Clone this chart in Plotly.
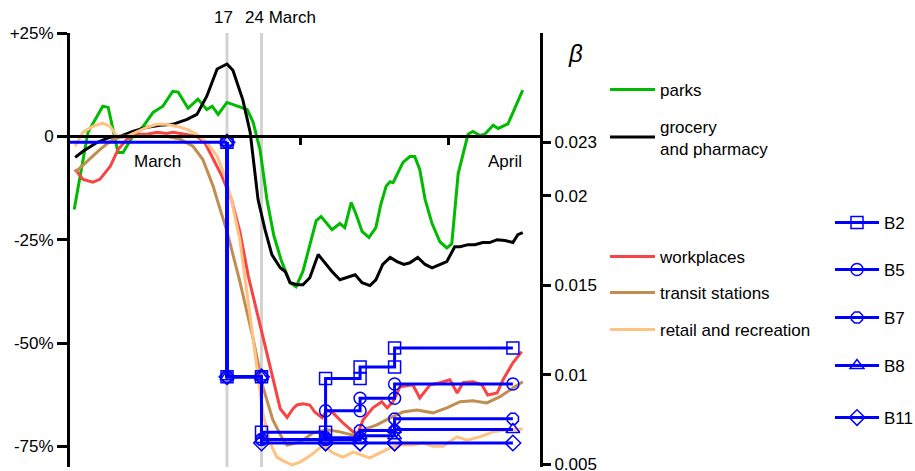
import plotly.graph_objects as go

# ---------------- data ----------------
# x = day number (1 = 1 March 2020, 32 = 1 April, 62 = 1 May)
parks_x = [-14.0, -11.2, -8.2, -7.1, -5.1, -4.1, -2.1, 0, 2.0, 4.0, 6.0, 7.1, 9.1, 11.1, 12.9, 14.0, 15.2, 17.0,
           21.1, 22.3, 23.7, 25.1, 26.5, 28.0, 29.8, 31.0, 32.4, 33.8, 35.1, 36.1, 36.9, 38.3, 39.9, 40.9, 42.2,
           43.2, 44.4, 45.8, 47.2, 48.2, 49.3, 50.1, 50.7, 52.7, 54.1, 55.1, 56.1, 57.2, 58.6, 60.2, 61.6, 62.6,
           63.9, 65.9, 66.9, 68.3, 69.3, 71.0, 72.0, 74.0, 77.0]
parks_y = [-17.7, 1.0, 7.3, 7.0, -3.9, -3.9, 0, 2.4, 5.8, 7.3, 10.9, 10.7, 6.8, 9.0, 6.5, 7.3, 5.3, 8.2,
           6.5, 3.4, -3.2, -15.3, -24.0, -30.0, -35.4, -36.4, -32.7, -26.2, -20.4, -19.4, -20.6, -22.6, -21.1,
           -22.1, -16.0, -18.9, -23.0, -24.5, -22.1, -16.5, -12.0, -11.0, -11.2, -6.3, -4.9, -4.9, -8.0, -15.3,
           -21.1, -25.5, -27.0, -26.0, -9.0, 0.5, 1.2, 0.2, 0.5, 2.7, 1.9, 3.0, 11.2]

grocery_x = [-13.8, -12.2, -9.4, -6.7, -4.7, -2.1, 0.8, 3.4, 6.0, 8.9, 10.9, 12.9, 15.0, 17.0, 18.2, 20.2, 21.7,
             23.3, 24.7, 26.1, 27.8, 28.8, 29.8, 31.2, 32.4, 33.8, 35.5, 36.9, 38.3, 39.9, 41.3, 43.0, 44.4, 46.0,
             47.2, 48.6, 50.1, 51.5, 52.9, 54.1, 55.7, 57.2, 58.6, 60.2, 61.6, 63.2, 64.3, 65.9, 67.3, 68.9, 70.3,
             71.8, 73.4, 75.0, 76.0, 77.0]
grocery_y = [-5.1, -3.6, -1.5, -0.2, 0, 1.2, 2.2, 2.7, 2.9, 4.1, 5.3, 9.7, 16.3, 17.5, 16.0, 8.9, 1.0,
             -15.3, -22.5, -28.6, -31.8, -32.7, -35.4, -35.9, -35.9, -34.2, -28.6, -30.8, -32.7, -34.7, -34.2,
             -33.5, -35.4, -36.1, -34.7, -31.0, -29.3, -30.3, -31.0, -30.6, -29.3, -31.0, -31.8, -31.0, -30.3,
             -26.7, -26.7, -26.2, -26.2, -25.7, -25.7, -25.0, -25.2, -25.7, -23.8, -23.3]

work_x = [-13.8, -12.2, -10.2, -8.8, -6.7, -5.1, -3.3, -1.3, 0.8, 2.8, 4.8, 6.0, 8.5, 10.9, 12.5, 14.2, 16.0,
          17.9, 19.6, 21.3, 23.7, 25.7, 27.8, 29.2, 30.4, 31.2, 32.4, 33.8, 34.8, 36.3, 37.3, 38.5, 40.5, 42.6,
          43.6, 44.6, 46.6, 48.4, 49.5, 50.7, 52.1, 54.7, 56.1, 58.2, 60.2, 62.2, 63.7, 64.9, 66.9, 68.7, 69.9,
          71.8, 73.0, 75.0, 76.8]
work_y = [-8.0, -10.4, -11.1, -10.4, -7.3, -3.2, -0.7, 0.5, 0.5, 1.0, 0.7, 1.0, 0.5, 0, -1.5, -5.6, -9.7,
          -15.3, -23.0, -33.7, -45.8, -55.5, -65.9, -68.0, -65.9, -65.0, -64.7, -65.0, -66.7, -68.1, -66.2,
          -66.9, -69.3, -71.5, -71.8, -68.6, -65.7, -64.2, -65.7, -64.2, -60.6, -60.1, -63.3, -60.1, -59.6,
          -58.9, -62.1, -59.6, -59.4, -60.1, -62.6, -62.1, -58.9, -54.8, -52.1]

transit_x = [-13.8, -11.4, -8.8, -6.7, -4.7, -2.1, 1.4, 4.8, 7.5, 10.1, 12.1, 14.2, 15.0, 17.0, 19.6, 22.3,
             24.3, 26.3, 28.4, 29.2, 31.8, 34.4, 37.3, 39.9, 42.6, 44.6, 47.4, 50.1, 52.7, 55.5, 58.8, 61.6,
             64.3, 66.9, 69.7, 72.4, 75.0, 77.0]
transit_y = [-8.7, -6.1, -3.2, -1.2, -0.2, 0, 0, 0, -0.7, -2.4, -5.6, -12.1, -15.3, -23.0, -35.1, -48.9,
             -60.6, -68.6, -73.5, -74.7, -74.0, -71.8, -71.0, -71.5, -72.3, -71.0, -69.8, -68.1, -66.7, -66.2,
             -66.9, -65.7, -64.2, -64.0, -64.5, -63.0, -60.9, -59.4]

retail_x = [-13.8, -12.2, -10.2, -8.2, -6.7, -5.3, -3.3, -1.3, 0.8, 2.8, 4.8, 6.9, 8.9, 10.9, 12.9, 15.0, 16.6,
            17.9, 19.6, 21.7, 23.1, 24.3, 25.7, 27.1, 28.4, 30.2, 31.8, 33.2, 34.8, 36.5, 38.5, 40.5, 42.6,
            44.0, 46.0, 48.0, 50.1, 52.1, 54.7, 56.8, 58.8, 60.8, 63.7, 65.7, 68.3, 71.0, 73.8, 77.0]
retail_y = [-2.4, 1.0, 2.4, 3.2, 2.4, 0, 0, 1.0, 2.2, 2.9, 2.9, 2.4, 1.7, 0.5, -1.5, -4.8, -9.7,
            -15.3, -25.0, -43.6, -55.8, -67.0, -74.0, -77.6, -78.5, -79.5, -78.8, -77.8, -76.4, -74.7, -76.6,
            -77.6, -76.4, -77.0, -77.8, -76.6, -75.4, -74.7, -74.7, -74.2, -75.0, -75.0, -72.7, -73.5, -72.7,
            -71.5, -71.0, -70.8]

# beta step functions: level before 17 March, then after each change day
beta_start_day = -14.85
beta_change_days = [17, 24, 37, 44, 51]
beta_end_day = 75
B2 = [0.023, 0.0099, 0.0068, 0.0098, 0.01045, 0.0115]
B5 = [0.023, 0.0099, 0.0064, 0.0080, 0.0087, 0.0095]
B7 = [0.023, 0.0099, 0.0064, 0.0065, 0.0069, 0.00755]
B8 = [0.023, 0.0099, 0.0064, 0.0064, 0.0066, 0.00695]
B11 = [0.023, 0.0099, 0.0062, 0.0062, 0.0062, 0.0062]

left_ticks = [-75, -50, -25, 0, 25]
left_ticktext = ["-75%", "-50%", "-25%", "0", "+25%"]
right_ticks = [0.005, 0.01, 0.015, 0.02, 0.023]
right_ticktext = ["0.005", "0.01", "0.015", "0.02", "0.023"]
month_tick_days = [32, 62]
event_days = [17, 24]

# ---------------- figure ----------------
FONT = "Liberation Sans, Arial, sans-serif"
FS = 17
W, H = 915, 471
L, R, T, B = 70, 375, 33, 4
PW, PH = W - L - R, H - T - B


def sx(px):  # screen pixel -> paper x
    return (px - L) / PW


def sy(py):  # screen pixel -> paper y
    return (H - B - py) / PH


fig = go.Figure()

mob = [
    ("parks", parks_x, parks_y, "#00BB00", "legend", 90),
    ("grocery<br>and pharmacy", grocery_x, grocery_y, "#000000", "legend2", 137.5),
    ("workplaces", work_x, work_y, "#F84444", "legend3", 257),
    ("transit stations", transit_x, transit_y, "#C08E50", "legend4", 293),
    ("retail and recreation", retail_x, retail_y, "#FFC280", "legend5", 330),
]
legend_layout = {}
for name, xs, ys, col, lg, ly in mob:
    fig.add_trace(go.Scatter(x=xs, y=ys, mode="lines", name=name, legend=lg,
                             line=dict(color=col, width=3), yaxis="y"))
    legend_layout[lg] = dict(x=sx(605), y=sy(ly), xanchor="left", yanchor="middle",
                             bgcolor="rgba(0,0,0,0)", font=dict(family=FONT, size=FS, color="black"),
                             itemwidth=45)

BLUE = "#0000FF"
# shared initial segment
fig.add_trace(go.Scatter(x=[beta_start_day, beta_change_days[0]], y=[B2[0], B2[0]], mode="lines",
                         line=dict(color=BLUE, width=3), yaxis="y2", showlegend=False, hoverinfo="skip"))

bser = [("B2", B2, "square-open", 223), ("B5", B5, "circle-open", 270), ("B7", B7, "octagon-open", 318),
        ("B8", B8, "triangle-up-open", 366), ("B11", B11, "diamond-open", 418)]
for i, (name, lev, sym, ly) in enumerate(bser):
    xs, ys = [], []
    for d, prev, new in zip(beta_change_days, lev[:-1], lev[1:]):
        xs += [d, d]
        ys += [prev, new]
    xs.append(beta_end_day)
    ys.append(lev[-1])
    lg = "legend%d" % (6 + i)
    fig.add_trace(go.Scatter(x=xs, y=ys, mode="lines+markers", name=name, legend=lg, yaxis="y2",
                             line=dict(color=BLUE, width=3),
                             marker=dict(symbol=sym, size=12, color=BLUE, line=dict(width=1.5, color=BLUE))))
    legend_layout[lg] = dict(x=sx(830), y=sy(ly), xanchor="left", yanchor="middle",
                             bgcolor="rgba(0,0,0,0)", font=dict(family=FONT, size=FS, color="black"),
                             itemwidth=44)

shapes = []
for d in event_days:
    shapes.append(dict(type="line", xref="x", yref="paper", x0=d, x1=d, y0=0, y1=1,
                       line=dict(color="#D3D3D3", width=3), layer="below"))

annotations = [
    dict(text="17", x=17, y=1, xref="x", yref="paper", yanchor="bottom", xanchor="center", yshift=4,
         xshift=-4, showarrow=False, font=dict(family=FONT, size=FS, color="black")),
    dict(text="24 March", x=24, y=1, xref="x", yref="paper", yanchor="bottom", xanchor="left", yshift=4,
         xshift=-19, showarrow=False, font=dict(family=FONT, size=FS, color="black")),
    dict(text="March", x=2.8, y=-6, xref="x", yref="y", showarrow=False,
         font=dict(family=FONT, size=FS, color="black")),
    dict(text="April", x=73.4, y=-6, xref="x", yref="y", showarrow=False,
         font=dict(family=FONT, size=FS, color="black")),
    dict(text="<i>β</i>", x=sx(585), y=sy(38), xref="paper", yref="paper", showarrow=False,
         font=dict(family=FONT, size=24, color="black")),
]

fig.update_layout(
    width=W, height=H,
    margin=dict(l=L, r=R, t=T, b=B, autoexpand=False),
    plot_bgcolor="white", paper_bgcolor="white",
    font=dict(family=FONT, size=FS, color="black"),
    xaxis=dict(range=[-14.85, 80.5], anchor="free", position=80 / 105, showline=True, linecolor="black",
               linewidth=2.5, ticks="outside", tickvals=month_tick_days, ticklen=7, tickwidth=2.5,
               tickcolor="black", showticklabels=False, showgrid=False, zeroline=False, fixedrange=True),
    yaxis=dict(range=[-80, 25], tickvals=left_ticks, ticktext=left_ticktext, showline=True, linecolor="black",
               linewidth=3, ticks="outside", ticklen=10, tickwidth=3, tickcolor="black", showgrid=False,
               zeroline=False, tickfont=dict(family=FONT, size=FS, color="black")),
    yaxis2=dict(range=[0.00486, 0.0291], overlaying="y", side="right", tickvals=right_ticks,
                ticktext=right_ticktext, showline=True, linecolor="black", linewidth=3, ticks="outside",
                ticklen=8, tickwidth=3, tickcolor="black", showgrid=False, zeroline=False,
                ticklabeloverflow="allow", tickfont=dict(family=FONT, size=FS, color="black")),
    shapes=shapes, annotations=annotations, showlegend=True,
    **legend_layout,
)

fig.write_html("out.html", config={"displayModeBar": False},
               post_script="document.body.style.margin='0px';")
